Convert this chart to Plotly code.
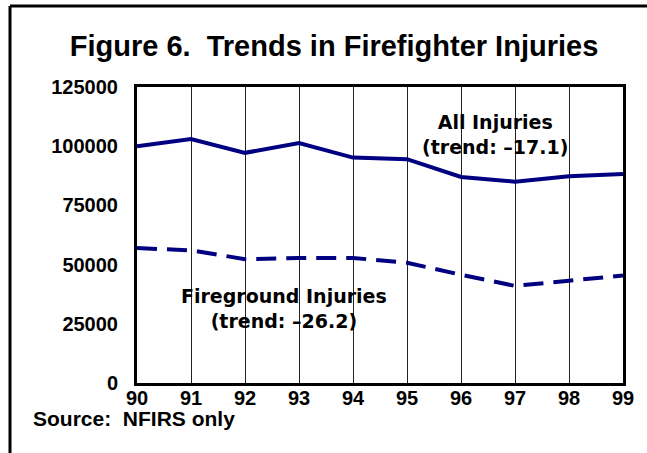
import plotly.graph_objects as go

years = [90, 91, 92, 93, 94, 95, 96, 97, 98, 99]
year_labels = ["90", "91", "92", "93", "94", "95", "96", "97", "98", "99"]
all_injuries = [100000, 103000, 97200, 101300, 95200, 94500, 87000, 85000, 87300, 88300]
fireground_injuries = [57000, 56000, 52300, 52800, 52800, 50800, 45700, 41000, 43200, 45400]
y_ticks = [0, 25000, 50000, 75000, 100000, 125000]

NAVY = "#000080"
W, H = 647, 453
L, R, T, B = 137, 24, 87, 70
PW, PH = W - L - R, H - T - B

def px(x):
    return (x - L) / PW

def py(y):
    return (H - B - y) / PH

fig = go.Figure()
fig.add_trace(go.Scatter(x=years, y=all_injuries, mode="lines",
                         line=dict(color=NAVY, width=4), name="All Injuries"))
fig.add_trace(go.Scatter(x=years, y=fireground_injuries, mode="lines",
                         line=dict(color=NAVY, width=4, dash="20px,10px"),
                         name="Fireground Injuries"))

fig.update_layout(
    width=W, height=H,
    margin=dict(l=L, r=R, t=T, b=B),
    paper_bgcolor="white", plot_bgcolor="white",
    showlegend=False,
    font=dict(family="Liberation Sans, Arial, sans-serif", color="black"),
    title=dict(text="<b>Figure 6.  Trends in Firefighter Injuries</b>",
               xref="container", x=334 / W, xanchor="center",
               yref="container", y=1 - 46 / H, yanchor="middle",
               font=dict(size=29, family="Liberation Sans, Arial, sans-serif", color="black")),
    xaxis=dict(range=[90, 99], tickvals=years, ticktext=[f"<b>{t}</b>" for t in year_labels],
               showgrid=True, gridcolor="#222222", gridwidth=1,
               showline=True, linecolor="black", linewidth=3, mirror=True,
               ticks="", zeroline=False, tickfont=dict(size=20), ticklabelstandoff=-5),
    yaxis=dict(range=[0, 125000], tickvals=y_ticks, ticktext=[f"<b>{v}</b>" for v in y_ticks],
               showgrid=False, showline=True, linecolor="black", linewidth=3, mirror=True,
               ticks="", zeroline=False, tickfont=dict(size=20), ticklabelstandoff=12),
)

annot_font = dict(family="DejaVu Sans, sans-serif", size=19, color="black")
fig.add_annotation(xref="paper", yref="paper", x=px(495), y=py(134),
                   text="<b>All Injuries<br>(trend: \u201317.1)</b>", showarrow=False,
                   font=annot_font, align="center", xanchor="center", yanchor="middle")
fig.add_annotation(xref="paper", yref="paper", x=px(284), y=py(308),
                   text="<b>Fireground Injuries<br>(trend: \u201326.2)</b>", showarrow=False,
                   font=annot_font, align="center", xanchor="center", yanchor="middle")
fig.add_annotation(xref="paper", yref="paper", x=px(31), y=py(418),
                   text="<b>Source:  NFIRS only</b>", showarrow=False,
                   font=dict(size=21, family="Liberation Sans, Arial, sans-serif", color="black"),
                   xanchor="left", yanchor="middle")

# outer frame (left and top edges visible)
fig.add_shape(type="line", xref="paper", yref="paper", x0=px(10), x1=px(10),
              y0=py(6), y1=py(470), line=dict(color="black", width=3))
fig.add_shape(type="line", xref="paper", yref="paper", x0=px(10), x1=px(670),
              y0=py(6), y1=py(6), line=dict(color="black", width=3))

fig.write_html("out.html", config={"displayModeBar": False},
               post_script="document.body.style.margin='0';document.body.style.overflow='hidden';")
